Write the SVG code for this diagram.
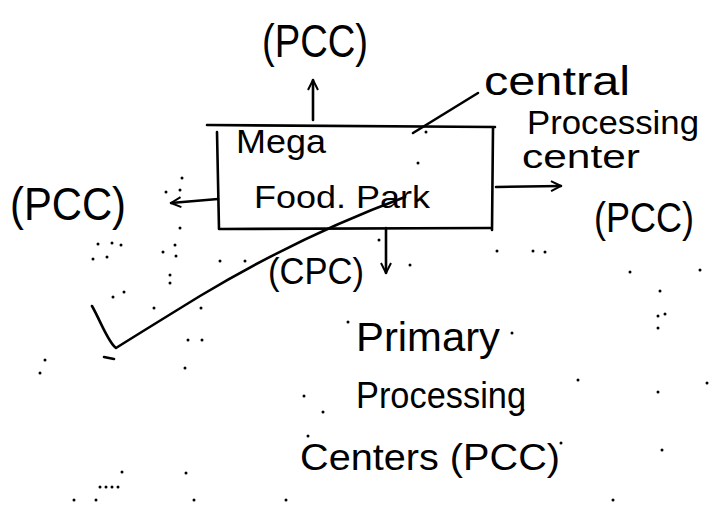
<svg xmlns="http://www.w3.org/2000/svg" width="710" height="506" viewBox="0 0 710 506">
  <defs>
    <style>
      .hand { font-family: "Liberation Sans", "DejaVu Sans", sans-serif; fill: #000; }
      .ink { fill: none; stroke: #000; stroke-width: 2.6; stroke-linecap: round; stroke-linejoin: round; }
      .speck { fill: #000; }
    </style>
    <marker id="headOpen" viewBox="0 0 12 12" refX="11" refY="6" markerWidth="12" markerHeight="12" markerUnits="userSpaceOnUse" orient="auto">
      <path d="M1,1 L11,6 L1,11" fill="none" stroke="#000" stroke-width="2"/>
    </marker>
  </defs>
  <rect width="710" height="506" fill="#fff"/>

  <!-- central hub: Mega Food Park -->
  <g id="mega-food-park">
    <path class="ink" d="M207,125 L495,127 M217,132 L219,229 L490,228 M493,128 L492,230"/>
    <text class="hand" x="236" y="153" font-size="34" textLength="90" lengthAdjust="spacingAndGlyphs">Mega</text>
    <text class="hand" x="254" y="208" font-size="32" textLength="176" lengthAdjust="spacingAndGlyphs">Food. Park</text>
  </g>

  <g id="pcc-top">
    <text class="hand" x="262" y="57" font-size="46" textLength="106" lengthAdjust="spacingAndGlyphs">(PCC)</text>
  </g>

  <g id="pcc-left">
    <text class="hand" x="10" y="220" font-size="46" textLength="116" lengthAdjust="spacingAndGlyphs">(PCC)</text>
  </g>

  <g id="pcc-right">
    <text class="hand" x="594" y="232" font-size="42" textLength="100" lengthAdjust="spacingAndGlyphs">(PCC)</text>
  </g>

  <g id="cpc-label">
    <text class="hand" x="484" y="95" font-size="40" textLength="146" lengthAdjust="spacingAndGlyphs">central</text>
    <text class="hand" x="527" y="134" font-size="33" textLength="172" lengthAdjust="spacingAndGlyphs">Processing</text>
    <text class="hand" x="522" y="168" font-size="34" textLength="118" lengthAdjust="spacingAndGlyphs">center</text>
  </g>

  <g id="cpc-bottom">
    <text class="hand" x="268" y="284" font-size="36" textLength="96" lengthAdjust="spacingAndGlyphs">(CPC)</text>
  </g>

  <g id="primary-centers">
    <text class="hand" x="356" y="351" font-size="40" textLength="144" lengthAdjust="spacingAndGlyphs">Primary</text>
    <text class="hand" x="356" y="408" font-size="36" textLength="170" lengthAdjust="spacingAndGlyphs">Processing</text>
    <text class="hand" x="300" y="470" font-size="37" textLength="260" lengthAdjust="spacingAndGlyphs">Centers (PCC)</text>
  </g>

  <!-- connectors -->
  <g id="connectors">
    <line class="ink" x1="313" y1="120" x2="313" y2="80" marker-end="url(#headOpen)"/>
    <line class="ink" x1="218" y1="199" x2="171" y2="203" marker-end="url(#headOpen)"/>
    <line class="ink" x1="496" y1="187" x2="561" y2="186" marker-end="url(#headOpen)"/>
    <line class="ink" x1="386" y1="228" x2="386" y2="273" marker-end="url(#headOpen)"/>
    <line class="ink" x1="413" y1="133" x2="478" y2="93"/>
    <!-- long tick stroke through the box -->
    <path class="ink" d="M405,197 Q300,236 200,296 Q135,336 116,348 C108,342 101,322 92,306"/>
    <path class="ink" d="M104,357 L114,359"/>
  </g>

  <!-- scattered specks -->
  <g id="specks">
    <circle class="speck" cx="182" cy="178" r="1.5"/>
    <circle class="speck" cx="180" cy="190" r="1.5"/>
    <circle class="speck" cx="166" cy="192" r="1.5"/>
    <circle class="speck" cx="180" cy="228" r="1.5"/>
    <circle class="speck" cx="175" cy="245" r="1.5"/>
    <circle class="speck" cx="163" cy="252" r="1.5"/>
    <circle class="speck" cx="176" cy="256" r="1.5"/>
    <circle class="speck" cx="170" cy="275" r="1.5"/>
    <circle class="speck" cx="98" cy="244" r="1.5"/>
    <circle class="speck" cx="112" cy="243" r="1.5"/>
    <circle class="speck" cx="121" cy="245" r="1.5"/>
    <circle class="speck" cx="93" cy="259" r="1.5"/>
    <circle class="speck" cx="107" cy="257" r="1.5"/>
    <circle class="speck" cx="113" cy="297" r="1.5"/>
    <circle class="speck" cx="124" cy="292" r="1.5"/>
    <circle class="speck" cx="154" cy="308" r="1.5"/>
    <circle class="speck" cx="201" cy="308" r="1.5"/>
    <circle class="speck" cx="188" cy="340" r="1.5"/>
    <circle class="speck" cx="185" cy="368" r="1.5"/>
    <circle class="speck" cx="45" cy="360" r="1.5"/>
    <circle class="speck" cx="40" cy="373" r="1.5"/>
    <circle class="speck" cx="220" cy="261" r="1.5"/>
    <circle class="speck" cx="245" cy="261" r="1.5"/>
    <circle class="speck" cx="170" cy="283" r="1.5"/>
    <circle class="speck" cx="202" cy="340" r="1.5"/>
    <circle class="speck" cx="122" cy="472" r="1.5"/>
    <circle class="speck" cx="100" cy="487" r="1.5"/>
    <circle class="speck" cx="106" cy="487" r="1.5"/>
    <circle class="speck" cx="112" cy="487" r="1.5"/>
    <circle class="speck" cx="118" cy="487" r="1.5"/>
    <circle class="speck" cx="74" cy="500" r="1.5"/>
    <circle class="speck" cx="96" cy="500" r="1.5"/>
    <circle class="speck" cx="186" cy="473" r="1.5"/>
    <circle class="speck" cx="194" cy="500" r="1.5"/>
    <circle class="speck" cx="286" cy="500" r="1.5"/>
    <circle class="speck" cx="304" cy="396" r="1.5"/>
    <circle class="speck" cx="308" cy="436" r="1.5"/>
    <circle class="speck" cx="323" cy="412" r="1.5"/>
    <circle class="speck" cx="410" cy="265" r="1.5"/>
    <circle class="speck" cx="348" cy="322" r="1.5"/>
    <circle class="speck" cx="512" cy="333" r="1.5"/>
    <circle class="speck" cx="523" cy="410" r="1.5"/>
    <circle class="speck" cx="561" cy="443" r="1.5"/>
    <circle class="speck" cx="578" cy="380" r="1.5"/>
    <circle class="speck" cx="613" cy="500" r="1.5"/>
    <circle class="speck" cx="630" cy="272" r="1.5"/>
    <circle class="speck" cx="660" cy="291" r="1.5"/>
    <circle class="speck" cx="658" cy="316" r="1.5"/>
    <circle class="speck" cx="665" cy="314" r="1.5"/>
    <circle class="speck" cx="658" cy="328" r="1.5"/>
    <circle class="speck" cx="658" cy="392" r="1.5"/>
    <circle class="speck" cx="662" cy="450" r="1.5"/>
    <circle class="speck" cx="707" cy="383" r="1.5"/>
    <circle class="speck" cx="700" cy="270" r="1.5"/>
    <circle class="speck" cx="545" cy="252" r="1.5"/>
    <circle class="speck" cx="533" cy="251" r="1.5"/>
    <circle class="speck" cx="497" cy="251" r="1.5"/>
    <circle class="speck" cx="426" cy="132" r="1.5"/>
    <circle class="speck" cx="418" cy="163" r="1.5"/>
    <circle class="speck" cx="379" cy="240" r="1.5"/>
  </g>
</svg>
